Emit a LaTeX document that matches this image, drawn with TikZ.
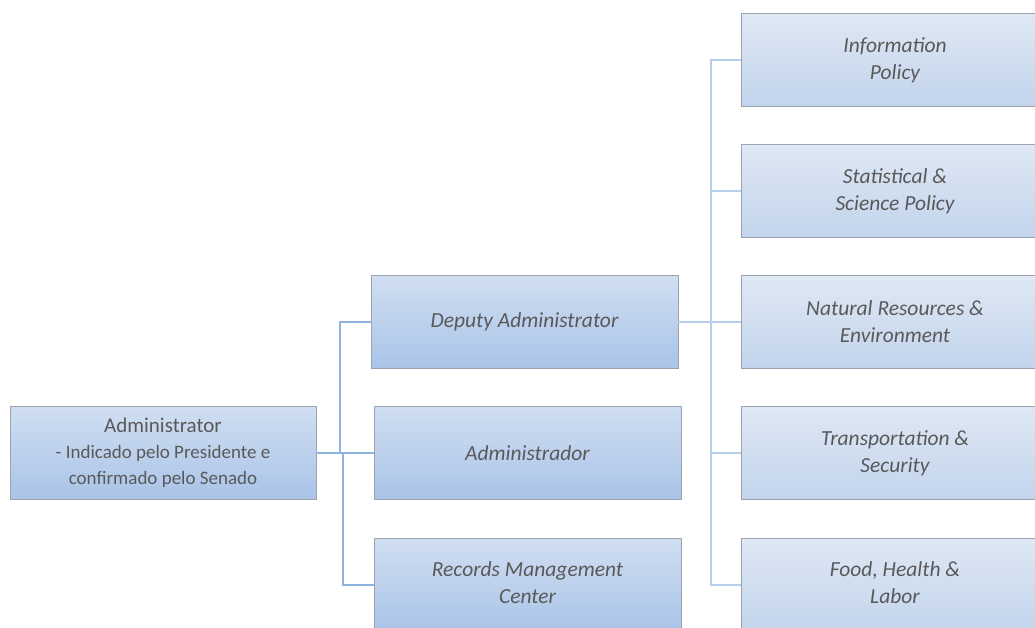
\documentclass[tikz,border=0pt]{standalone}
\usepackage{fontspec}
\setmainfont{Carlito}
\begin{document}
\begin{tikzpicture}[x=1pt,y=-1pt,
  unitbox/.style={draw=boxedge, line width=0.9pt, rectangle, minimum height=93pt,
    align=center, text=textgray, font=\fontsize{21.5}{27}\selectfont\itshape,
    inner sep=0pt},
  midbox/.style={unitbox, top color=midtop, bottom color=midbottom, minimum width=307pt},
  sidebox/.style={unitbox, top color=sidetop, bottom color=sidebottom, minimum width=300pt},
  sidetext/.style={text=textgray, font=\fontsize{21.5}{27}\selectfont\itshape, align=center},
  linkA/.style={draw=linkdark, line width=1.4pt},
  linkB/.style={draw=linklight, line width=1.4pt}]
\definecolor{boxedge}{HTML}{9AA3AF}
\definecolor{textgray}{HTML}{595959}
\definecolor{midtop}{HTML}{D0DEF1}
\definecolor{midbottom}{HTML}{A9C4E8}
\definecolor{sidetop}{HTML}{DFE8F4}
\definecolor{sidebottom}{HTML}{C2D4EC}
\definecolor{linkdark}{HTML}{8FB3E0}
\definecolor{linklight}{HTML}{B8CFEC}
\useasboundingbox (0,0) rectangle (1035,628);
\begin{scope}
\clip (0,0) rectangle (1035,628);
% head of the organisation
\node[midbox, minimum width=306pt, font=\fontsize{19}{26}\selectfont] (adm) at (163,453)
  {{\fontsize{21}{26}\selectfont Administrator}\\- Indicado pelo Presidente e\\confirmado pelo Senado};
% second level
\node[midbox] (dep) at (524.5,322) {Deputy Administrator};
\node[midbox] (ador) at (527.5,453) {Administrador};
\node[midbox] (rec) at (527.5,585) {};
\node[sidetext] at (527.5,583) {Records Management\\Center};
% offices under the deputy
\node[sidebox, anchor=west] (info) at (741,60) {};
\node[sidebox, anchor=west] (stat) at (741,191) {};
\node[sidebox, anchor=west] (nat) at (741,322) {};
\node[sidebox, anchor=west] (trans) at (741,453) {};
\node[sidebox, anchor=west] (food) at (741,585) {};
\node[sidetext] at (895,60) {Information\\Policy};
\node[sidetext] at (895,191) {Statistical \&\\Science Policy};
\node[sidetext] at (895,322) {Natural Resources \&\\Environment};
\node[sidetext] at (895,453) {Transportation \&\\Security};
\node[sidetext] at (895,583) {Food, Health \&\\Labor};
% connectors from the administrator
\coordinate (ja) at (340,453);
\coordinate (jb) at (343,453);
\draw[linkA] (adm.east) -- (ador.west);
\draw[linkA] (ja) |- (dep.west);
\draw[linkA] (jb) |- (rec.west);
% connectors from the deputy
\coordinate (jr) at (711,322);
\draw[linkB] (dep.east) -- (nat.west);
\draw[linkB] (jr) |- (info.west);
\draw[linkB] (jr) |- (stat.west);
\draw[linkB] (jr) |- (trans.west);
\draw[linkB] (jr) |- (food.west);
\end{scope}
\end{tikzpicture}
\end{document}
